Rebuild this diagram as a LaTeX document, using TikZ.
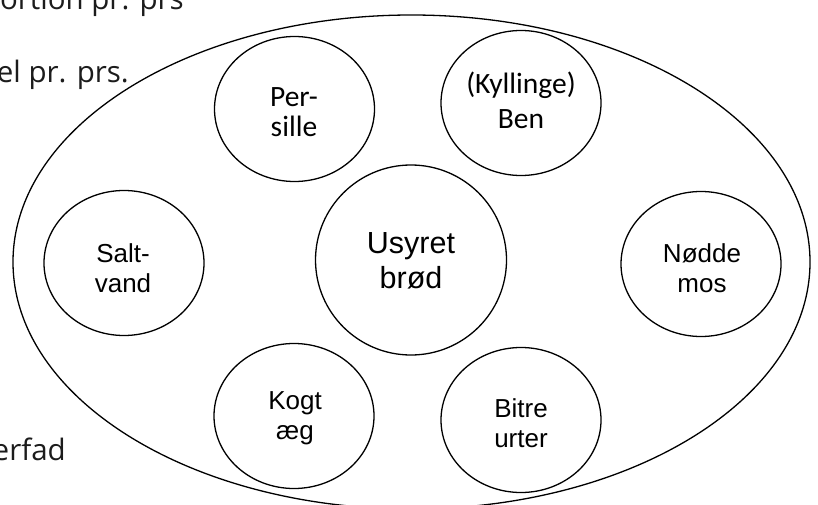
\documentclass[tikz,border=0pt]{standalone}
\usepackage{fontspec}
\setmainfont{Liberation Sans}
\newfontfamily\calib{Carlito}
\newfontfamily\osans{Open Sans}
\usetikzlibrary{shapes.geometric}
\definecolor{sidetext}{HTML}{1C1C1C}
\tikzset{
  dish/.style={ellipse, draw=black, line width=1.3pt, inner sep=0pt,
    minimum width=160pt, minimum height=145pt},
  bigdish/.style={ellipse, draw=black, line width=1.3pt, inner sep=0pt,
    minimum width=191pt, minimum height=190pt},
  plate/.style={ellipse, draw=black, line width=1.3pt, inner sep=0pt,
    minimum width=797pt, minimum height=494pt},
  lbl/.style={align=center, inner sep=0pt, text=black,
    font=\fontsize{26}{30}\selectfont},
  clbl/.style={align=center, inner sep=0pt, text=black},
  side/.style={anchor=base east, inner sep=0pt, text=sidetext,
    font=\osans\fontsize{29.5}{34}\selectfont}
}
\begin{document}
\begin{tikzpicture}[x=1pt,y=-1pt]
\useasboundingbox (0,0) rectangle (818,505);
\clip (0,0) rectangle (818,505);
\fill[white] (0,0) rectangle (818,505);

% cropped side texts
\node[side] (t1) at (184,10) {ortion pr. prs};
\node[side] (t2) at (129,83) {el pr. prs.};
\node[side] (t3) at (66,460) {erfad};

% plate
\node[plate] (plate) at (411.5,262) {};

% dishes
\node[dish] (persille) at (294.5,109) {};
\node[dish] (ben) at (521,103) {};
\node[dish] (salt) at (124,263) {};
\node[bigdish] (brod) at (411,260) {};
\node[dish] (nodde) at (701,264) {};
\node[dish] (aeg) at (294,416) {};
\node[dish] (urter) at (521,420) {};

% labels
\node[clbl, font=\calib\fontsize{29.5}{30}\selectfont] (persilleT) at (294,112) {Per-\\sille};
\node[clbl, font=\calib\fontsize{29.5}{35}\selectfont] (benT) at (521,100) {(Kyllinge)\\Ben};
\node[lbl] (saltT) at (123,268) {Salt-\\vand};
\node[clbl, font=\fontsize{30.5}{35}\selectfont] (brodT) at (411,261) {Usyret\\brød};
\node[lbl] (noddeT) at (702,268) {Nødde\\mos};
\node[lbl] (aegT) at (295,418) {Kogt\\æg};
\node[lbl] (urterT) at (521,423) {Bitre\\urter};
\end{tikzpicture}
\end{document}
